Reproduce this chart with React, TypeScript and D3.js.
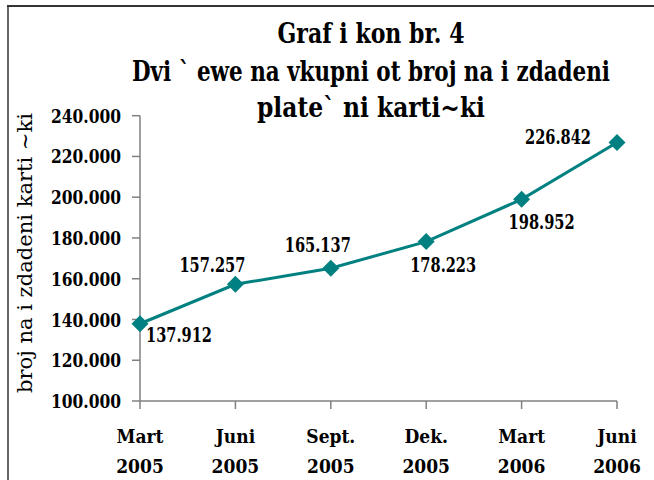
import React from "react";
import * as d3 from "d3";

const titleLines = [
  "Graf i kon br. 4",
  "Dvi ` ewe na vkupni ot broj na i zdadeni",
  "plate` ni karti~ki",
];
const yAxisTitle = "broj na i zdadeni karti ~ki";
const months = ["Mart", "Juni", "Sept.", "Dek.", "Mart", "Juni"];
const years = ["2005", "2005", "2005", "2005", "2006", "2006"];
const values = [137912, 157257, 165137, 178223, 198952, 226842];
const yTicks = [100000, 120000, 140000, 160000, 180000, 200000, 220000, 240000];

// label placement offsets relative to each point (layout only)
const labelOffsets: [number, number][] = [
  [39, 18],
  [-23, -12],
  [-13, -16],
  [17, 30],
  [20, 30],
  [-59, 1],
];

const W = 654;
const H = 480;
const NUM_FONT = "'DejaVu Serif Condensed', 'DejaVu Serif', serif";

const fmt = (v: number) => {
  const s = String(v);
  return s.slice(0, s.length - 3) + "." + s.slice(s.length - 3);
};

export default function App() {
  const x = d3
    .scalePoint<number>()
    .domain(d3.range(values.length))
    .range([140, 617]);
  const y = d3.scaleLinear().domain([100000, 240000]).range([401, 115.7]);

  const line = d3
    .line<number>()
    .x((_, i) => x(i) as number)
    .y((d) => y(d));

  const titleWidths = [187, 478, 228];
  const titleBaselines = [43, 80.5, 117];
  const axisColor = "#808080";
  const teal = "#008080";

  return (
    <svg
      width={W}
      height={H}
      style={{ position: "absolute", left: 0, top: 0, background: "#fff" }}
    >
      <rect x={0} y={0} width={W} height={H} fill="#fff" />
      {/* frame */}
      <line x1={7} y1={6} x2={W} y2={6} stroke="#333" strokeWidth={2} />
      <line x1={8} y1={5} x2={8} y2={H} stroke="#333" strokeWidth={1.5} />

      {/* title */}
      {titleLines.map((t, i) => (
        <text
          key={i}
          x={371}
          y={titleBaselines[i]}
          textAnchor="middle"
          fontFamily={NUM_FONT}
          fontStretch="condensed"
          fontWeight="bold"
          fontSize={27}
          textLength={titleWidths[i]}
          lengthAdjust="spacingAndGlyphs"
          fill="#000"
        >
          {t}
        </text>
      ))}

      {/* y axis title */}
      <text
        transform={`translate(32,253) rotate(-90)`}
        textAnchor="middle"
        fontFamily={NUM_FONT}
        fontStretch="condensed"
        fontSize={21}
        textLength={280}
        lengthAdjust="spacingAndGlyphs"
        fill="#000"
      >
        {yAxisTitle}
      </text>

      {/* y axis */}
      <line x1={140} y1={y(240000)} x2={140} y2={y(100000)} stroke={axisColor} strokeWidth={1.5} />
      {yTicks.map((t) => (
        <g key={t}>
          <line x1={132} x2={140} y1={y(t)} y2={y(t)} stroke={axisColor} strokeWidth={1.5} />
          <text
            x={121}
            y={y(t)}
            dy="0.37em"
            textAnchor="end"
            fontFamily={NUM_FONT}
            fontStretch="condensed"
            fontWeight="bold"
            fontSize={19}
            textLength={70}
            lengthAdjust="spacingAndGlyphs"
            fill="#000"
          >
            {fmt(t)}
          </text>
        </g>
      ))}

      {/* x axis */}
      <line x1={140} y1={401} x2={617} y2={401} stroke={axisColor} strokeWidth={1.5} />
      {months.map((m, i) => (
        <g key={i}>
          <line x1={x(i)} x2={x(i)} y1={401} y2={409} stroke={axisColor} strokeWidth={1.5} />
          <text
            x={x(i) as number}
            y={443}
            textAnchor="middle"
            fontFamily={NUM_FONT}
            fontStretch="condensed"
            fontWeight="bold"
            fontSize={19}
            fill="#000"
          >
            {m}
          </text>
          <text
            x={x(i) as number}
            y={473}
            textAnchor="middle"
            fontFamily={NUM_FONT}
            fontStretch="condensed"
            fontWeight="bold"
            fontSize={19}
            fill="#000"
          >
            {years[i]}
          </text>
        </g>
      ))}

      {/* series */}
      <path d={line(values) || ""} fill="none" stroke={teal} strokeWidth={3} />
      {values.map((v, i) => {
        const cx = x(i) as number;
        const cy = y(v);
        const r = 8.5;
        return (
          <path
            key={i}
            d={`M${cx},${cy - r}L${cx + r},${cy}L${cx},${cy + r}L${cx - r},${cy}Z`}
            fill={teal}
          />
        );
      })}
      {values.map((v, i) => (
        <text
          key={i}
          x={(x(i) as number) + labelOffsets[i][0]}
          y={y(v) + labelOffsets[i][1]}
          textAnchor="middle"
          fontFamily={NUM_FONT}
          fontStretch="condensed"
          fontWeight="bold"
          fontSize={20}
          textLength={66}
          lengthAdjust="spacingAndGlyphs"
          fill="#000"
        >
          {fmt(v)}
        </text>
      ))}
    </svg>
  );
}
